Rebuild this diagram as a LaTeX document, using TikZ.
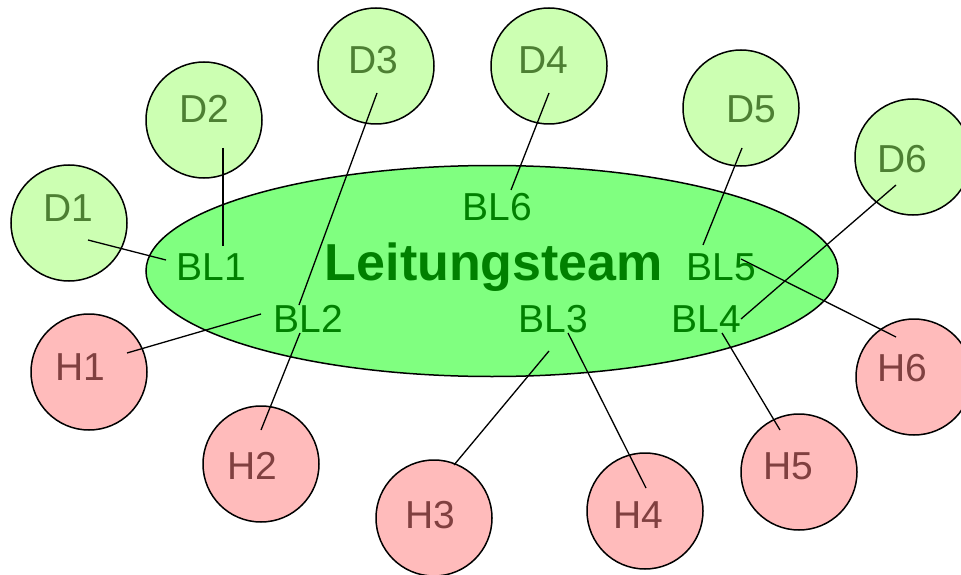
\documentclass[tikz,border=0pt]{standalone}
\usepackage{fontspec}
\setmainfont{Liberation Sans}
\usetikzlibrary{shapes.geometric}
\definecolor{dfill}{HTML}{CCFFB2}
\definecolor{dtext}{HTML}{4D7F33}
\definecolor{hfill}{HTML}{FFBBBB}
\definecolor{htext}{HTML}{804040}
\definecolor{efill}{HTML}{80FF80}
\definecolor{bltext}{HTML}{008000}
\begin{document}
\begin{tikzpicture}[x=1pt,y=-1pt,
  dcirc/.style={circle,draw=black,line width=1.5pt,fill=dfill,minimum size=116pt,inner sep=0pt},
  hcirc/.style={circle,draw=black,line width=1.5pt,fill=hfill,minimum size=116pt,inner sep=0pt},
  dlab/.style={anchor=base,inner sep=0pt,text=dtext,font=\fontsize{39}{39}\selectfont},
  hlab/.style={anchor=base,inner sep=0pt,text=htext,font=\fontsize{39}{39}\selectfont},
  bllab/.style={anchor=base,inner sep=0pt,text=bltext,font=\fontsize{39}{39}\selectfont},
  conn/.style={draw=black,line width=1.3pt}]
\useasboundingbox (0,0) rectangle (961,575);
% ellipse
\node[ellipse,draw=black,line width=1.5pt,fill=efill,minimum width=692pt,minimum height=211pt,inner sep=0pt] (team) at (492,271) {};
% circles
\node[dcirc] (D1) at (69,223) {};
\node[dcirc] (D2) at (204,120) {};
\node[dcirc] (D3) at (376,66) {};
\node[dcirc] (D4) at (549,66) {};
\node[dcirc] (D5) at (741,108) {};
\node[dcirc] (D6) at (913,157) {};
\node[hcirc] (H1) at (89,372) {};
\node[hcirc] (H2) at (261,464) {};
\node[hcirc] (H3) at (434,518) {};
\node[hcirc] (H4) at (645,511) {};
\node[hcirc] (H5) at (799,472) {};
\node[hcirc] (H6) at (914,377) {};
% connector end points
\coordinate (d1e) at (88,240);   \coordinate (bl1w) at (166,260);
\coordinate (d2e) at (223,148);  \coordinate (bl1n) at (223,246);
\coordinate (d3e) at (377,93);   \coordinate (bl2n) at (299,305);
\coordinate (bl2s) at (300,333); \coordinate (h2e) at (261,430);
\coordinate (h1e) at (127,353);  \coordinate (bl2w) at (261,314);
\coordinate (d4e) at (549,93);   \coordinate (bl6n) at (511,190);
\coordinate (d5e) at (742,148);  \coordinate (bl5n) at (703,245);
\coordinate (d6e) at (896,185);  \coordinate (bl4e) at (741,319);
\coordinate (bl5e) at (741,259); \coordinate (h6e) at (896,337);
\coordinate (bl3w) at (549,351); \coordinate (h3e) at (454,465);
\coordinate (bl3e) at (568,333); \coordinate (h4e) at (646,488);
\coordinate (bl4s) at (722,333); \coordinate (h5e) at (780,430);
% connectors
\draw[conn] (d1e) -- (bl1w);
\draw[conn] (d2e) -- (bl1n);
\draw[conn] (d3e) -- (bl2n);
\draw[conn] (bl2s) -- (h2e);
\draw[conn] (h1e) -- (bl2w);
\draw[conn] (d4e) -- (bl6n);
\draw[conn] (d5e) -- (bl5n);
\draw[conn] (d6e) -- (bl4e);
\draw[conn] (bl5e) -- (h6e);
\draw[conn] (bl3w) -- (h3e);
\draw[conn] (bl3e) -- (h4e);
\draw[conn] (bl4s) -- (h5e);
% labels
\node[dlab] (tD1) at (68,221) {D1};
\node[dlab] (tD2) at (204,123) {D2};
\node[dlab] (tD3) at (373,74) {D3};
\node[dlab] (tD4) at (543,74) {D4};
\node[dlab] (tD5) at (751,123) {D5};
\node[dlab] (tD6) at (902,172) {D6};
\node[hlab] (tH1) at (80,380) {H1};
\node[hlab] (tH2) at (252,479) {H2};
\node[hlab] (tH3) at (430,528) {H3};
\node[hlab] (tH4) at (638,528) {H4};
\node[hlab] (tH5) at (788,479) {H5};
\node[hlab] (tH6) at (902,381) {H6};
\node[bllab] (BL1) at (211,280) {BL1};
\node[bllab] (BL2) at (308,332) {BL2};
\node[bllab] (BL3) at (553,332) {BL3};
\node[bllab] (BL4) at (706,332) {BL4};
\node[bllab] (BL5) at (721,280) {BL5};
\node[bllab] (BL6) at (497,220) {BL6};
\node[anchor=base,inner sep=0pt,text=bltext,font=\fontsize{52}{52}\selectfont\bfseries] (lt) at (494,280) {Leitungsteam};
\end{tikzpicture}
\end{document}
